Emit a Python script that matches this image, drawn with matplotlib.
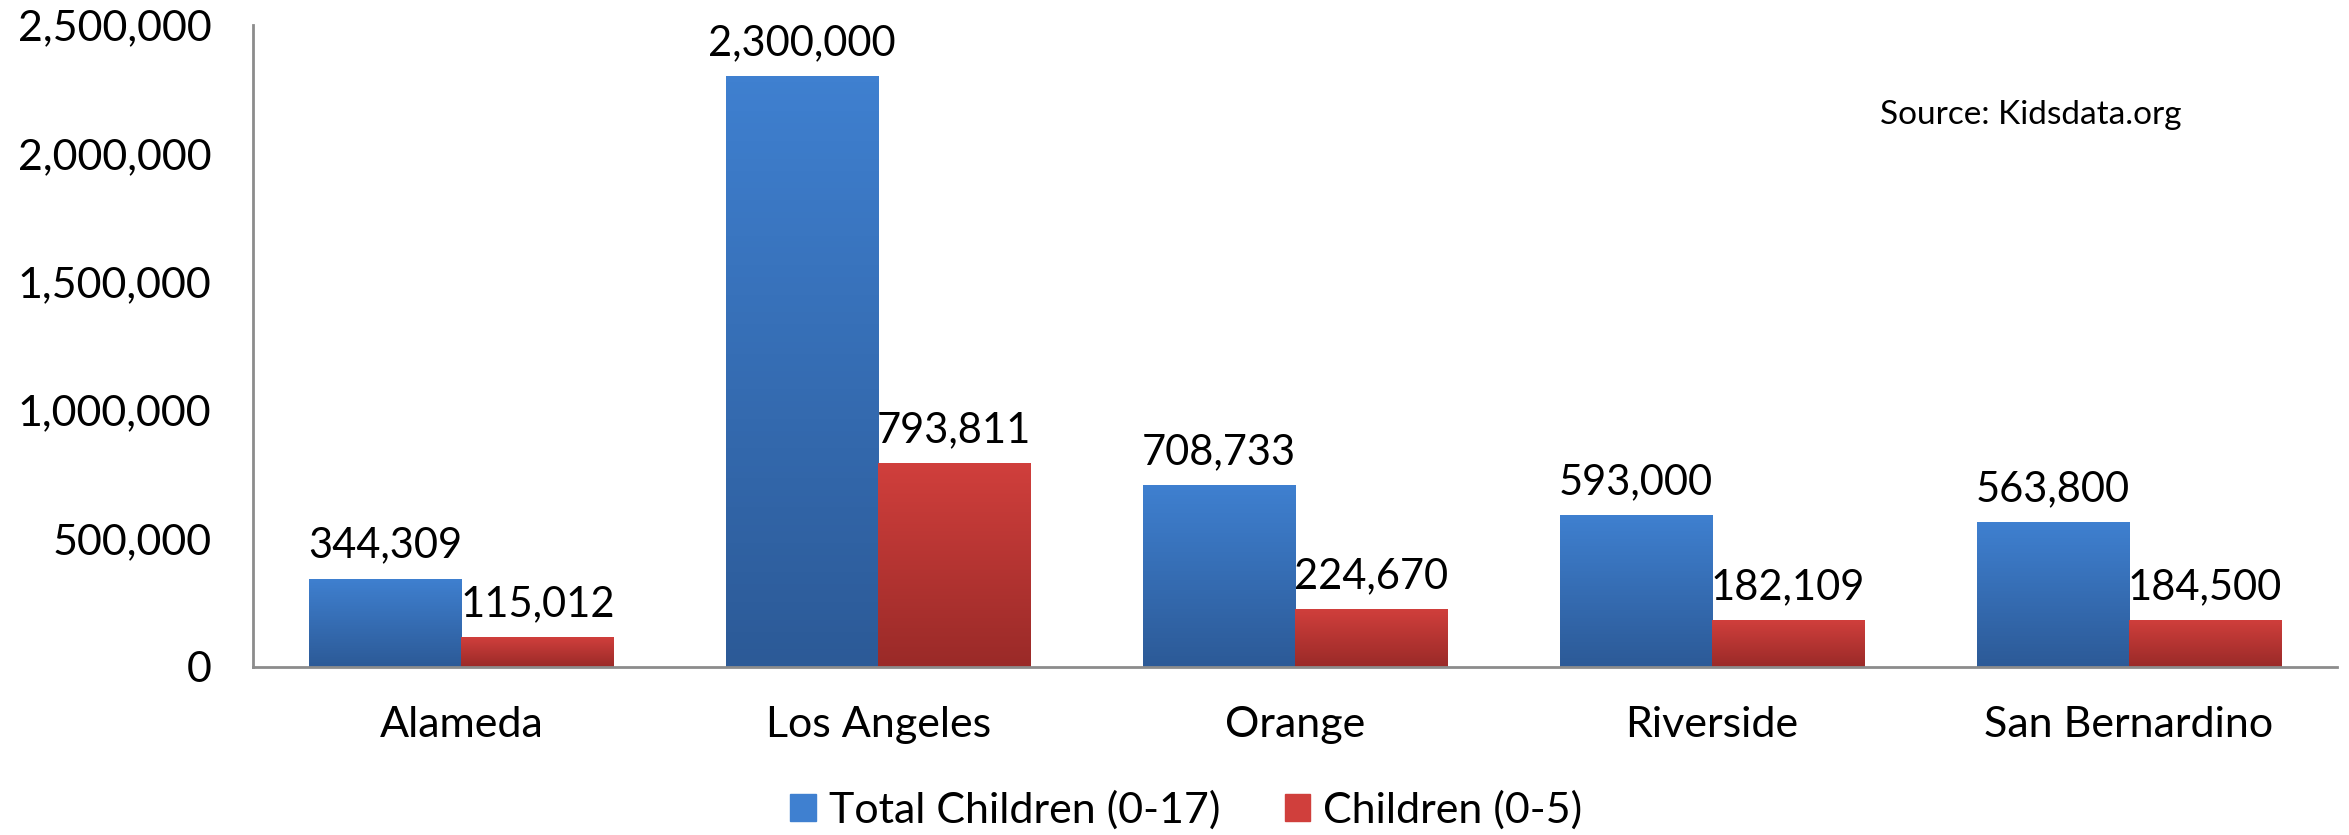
import matplotlib.pyplot as plt
import numpy as np
from matplotlib.ticker import FuncFormatter

plt.rcParams['font.family'] = ['Lato', 'DejaVu Sans']

# Data
fylker = ['Alameda', 'Los Angeles', 'Orange', 'Riverside', 'San Bernardino']
totalt_barn = [344309, 2300000, 708733, 593000, 563800]
barn_0_5 = [115012, 793811, 224670, 182109, 184500]
serie_navn = ['Total Children (0-17)', 'Children (0-5)']
y_ticks = [0, 500000, 1000000, 1500000, 2000000, 2500000]

fig = plt.figure(figsize=(23.49, 8.35), dpi=100)
ax = fig.add_axes([0.1077, 0.2012, 0.8873, 0.769])

x = np.arange(len(fylker))
bredde = 0.365

# gradient fra topp til bunn for hver serie
blaa = ['#3f80d0', '#2c5a97']
roed = ['#d03f3c', '#9a2a28']


def gradient_bars(bars, farger):
    topp = np.array(plt.matplotlib.colors.to_rgb(farger[0]))
    bunn = np.array(plt.matplotlib.colors.to_rgb(farger[1]))
    t = np.linspace(0, 1, 100)[:, None]
    img = (topp * (1 - t) + bunn * t)[:, None, :]
    for bar in bars:
        x0, y0 = bar.get_x(), bar.get_y()
        w, h = bar.get_width(), bar.get_height()
        bar.set_facecolor('none')
        im = ax.imshow(img, extent=[x0, x0 + w, y0, y0 + h], aspect='auto',
                       origin='upper', zorder=2)
        im.set_clip_path(bar)


b1 = ax.bar(x - bredde / 2, totalt_barn, bredde, color=blaa[0], label=serie_navn[0],
            linewidth=0, zorder=2)
b2 = ax.bar(x + bredde / 2, barn_0_5, bredde, color=roed[0], label=serie_navn[1],
            linewidth=0, zorder=2)
gradient_bars(b1, blaa)
gradient_bars(b2, roed)

# verdietiketter over stolpene
for bars, verdier in [(b1, totalt_barn), (b2, barn_0_5)]:
    for bar, v in zip(bars, verdier):
        ax.annotate(f'{v:,}', (bar.get_x() + bar.get_width() / 2, v),
                    xytext=(0, 10), textcoords='offset points',
                    ha='center', va='bottom', fontsize=30)

ax.set_xlim(-0.5, len(fylker) - 0.5)
ax.set_ylim(0, 2500000)
ax.set_yticks(y_ticks)
ax.yaxis.set_major_formatter(FuncFormatter(lambda v, p: f'{int(v):,}'))
ax.set_xticks(x)
ax.set_xticklabels(fylker)
ax.tick_params(axis='y', length=0, pad=30, labelsize=31)
ax.tick_params(axis='x', length=0, pad=28, labelsize=31)

for s in ['top', 'right']:
    ax.spines[s].set_visible(False)
for s in ['left', 'bottom']:
    ax.spines[s].set_color('#8c8c8c')
    ax.spines[s].set_linewidth(2)

ax.text(0.853, 0.86, 'Source: Kidsdata.org', transform=ax.transAxes,
        ha='center', va='center', fontsize=24)

h1 = plt.Rectangle((0, 0), 1, 1, color=blaa[0])
h2 = plt.Rectangle((0, 0), 1, 1, color=roed[0])
fig.legend([h1, h2], serie_navn, loc='center', bbox_to_anchor=(0.505, 0.03),
           ncol=2, frameon=False, fontsize=31, handlelength=0.6, handleheight=0.6,
           handletextpad=0.3, columnspacing=1.5)

fig.savefig('out.png', dpi=100)
